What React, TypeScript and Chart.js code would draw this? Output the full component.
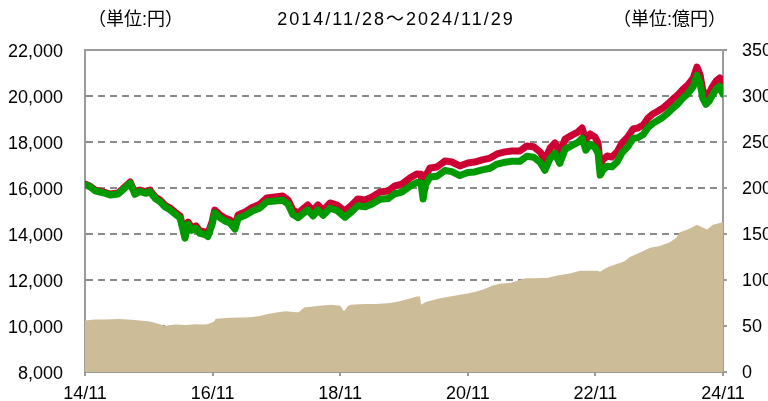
import React, { useEffect, useRef } from 'react';
import { Chart, registerables } from 'chart.js';

Chart.register(...registerables);

// ---- Data ----
const xTickLabels = ['14/11', '16/11', '18/11', '20/11', '22/11', '24/11'];
const titleLeft = '（単位:円）';
const titleCenter = '2014/11/28～2024/11/29';
const titleRight = '（単位:億円）';

// months since 2014/11
const priceMonths = [0, 0.9, 1.9, 3.4, 4.7, 6.2, 7.1, 8.5, 9.4, 10.3, 11.5, 12.2, 13.2, 14.1, 15, 16, 16.9, 17.9, 18.8, 19.4, 20.1, 20.9, 21.6, 22.6, 23.1, 23.9, 24.4, 25.4, 26.3, 27.3, 28.2, 28.8, 30.1, 31.6, 32.9, 34.2, 35.7, 37.2, 38.2, 39.1, 40.1, 41, 41.9, 42.9, 43.8, 44.8, 46.1, 47.4, 48.9, 50.2, 51.3, 52.7, 54, 55.5, 57, 58.3, 59.6, 61.1, 62.4, 63.2, 63.6, 64, 64.9, 66.2, 67.7, 69, 70.5, 72, 73.3, 74.7, 76.2, 77.5, 79, 80.3, 81.8, 83.1, 84.4, 85.6, 86.5, 87.5, 88.4, 89.3, 90.3, 91.6, 92.7, 93.5, 94.2, 95, 95.9, 96.5, 96.9, 97.4, 98.2, 99.1, 100.1, 101, 102.1, 103.1, 104, 105, 105.9, 106.8, 107.8, 108.7, 109.6, 110.6, 111.5, 112.5, 113.4, 114.4, 115.1, 115.7, 116.2, 116.8, 117.4, 117.9, 118.7, 119.4, 120];

const priceRed = [16170, 16090, 15910, 15830, 15740, 15780, 15960, 16260, 15780, 15910, 15830, 15910, 15610, 15480, 15260, 15130, 14960, 14780, 13910, 14520, 14260, 14350, 14130, 14090, 14000, 14520, 15040, 14830, 14700, 14610, 14350, 14830, 14960, 15170, 15300, 15570, 15610, 15650, 15480, 15040, 14910, 15090, 15260, 15000, 15260, 15040, 15350, 15260, 15000, 15260, 15520, 15480, 15610, 15830, 15870, 16090, 16170, 16430, 16610, 16600, 15900, 16500, 16870, 16910, 17170, 17130, 16960, 17090, 17130, 17220, 17300, 17480, 17570, 17610, 17610, 17830, 17790, 17570, 17220, 17740, 17960, 17520, 18130, 18300, 18430, 18610, 18090, 18350, 18220, 17960, 17000, 17220, 17390, 17350, 17570, 17960, 18220, 18570, 18610, 18740, 19040, 19220, 19350, 19480, 19650, 19870, 20040, 20300, 20480, 20780, 21260, 20910, 20260, 20000, 20130, 20350, 20650, 20780, 20430];

const priceGreen = [16140, 16060, 15875, 15795, 15700, 15740, 15915, 16210, 15725, 15850, 15770, 15845, 15545, 15410, 15185, 15050, 14875, 14690, 13820, 14425, 14160, 14250, 14025, 13980, 13890, 14405, 14920, 14705, 14570, 14475, 14210, 14685, 14810, 15010, 15135, 15400, 15430, 15465, 15290, 14845, 14710, 14885, 15050, 14785, 15040, 14815, 15120, 15020, 14730, 14980, 15230, 15180, 15300, 15510, 15540, 15750, 15820, 16070, 16240, 16220, 15520, 16120, 16480, 16510, 16760, 16710, 16540, 16670, 16700, 16790, 16860, 17040, 17120, 17160, 17160, 17380, 17340, 17120, 16770, 17290, 17510, 17070, 17680, 17850, 17980, 18160, 17640, 17900, 17770, 17510, 16560, 16780, 16950, 16920, 17140, 17530, 17800, 18150, 18190, 18330, 18630, 18810, 18950, 19080, 19250, 19480, 19650, 19920, 20100, 20410, 20900, 20550, 19900, 19640, 19780, 20000, 20300, 20430, 20080];

const assetMonths = [0, 1.9, 3.8, 6.2, 8.1, 10.3, 12.2, 14.1, 14.9, 16.9, 19, 20.7, 22.6, 23.3, 24.3, 24.6, 27.3, 31, 32.9, 34.4, 36.3, 37.8, 39.7, 40.2, 41.2, 44.2, 46.3, 48, 48.7, 49.5, 50, 52.7, 54.7, 57.4, 59.2, 61.1, 62.4, 63, 63.2, 64.1, 66.6, 68.6, 71.7, 73.3, 75, 76.7, 78, 80.1, 81.8, 82.8, 84.6, 87.1, 88.8, 91.2, 93.1, 96.3, 96.9, 98, 99.3, 101.4, 102.5, 104.4, 106.3, 108.1, 110, 111.2, 111.9, 113.8, 115.1, 117, 118.1, 119.4, 120];

const assetValues = [56, 57, 57, 57.5, 57, 56, 55, 52, 50, 51.5, 51, 52, 51.5, 52.5, 55, 58, 59, 59.5, 61, 63, 65, 66, 65, 65, 70, 72, 73, 72, 66, 72, 73, 74, 74, 75, 77, 80, 82, 82, 73, 76, 80, 82, 85, 87, 90, 94, 96, 97, 100, 102, 102, 102.5, 105, 107, 110, 110, 109, 113, 116, 120, 125, 130, 135, 137, 141, 146, 152, 156, 160, 155, 160, 162, 163];

const FONT_FAMILY = "'Liberation Sans', 'Noto Sans CJK JP', sans-serif";

const framePlugin = {
  id: 'frameAndTitles',
  afterDraw(chart: any) {
    const { ctx, chartArea } = chart;
    ctx.save();
    ctx.strokeStyle = '#9a9a9a';
    ctx.lineWidth = 2;
    ctx.beginPath();
    ctx.moveTo(chartArea.left, chartArea.top);
    ctx.lineTo(chartArea.right, chartArea.top);
    ctx.stroke();

    ctx.fillStyle = '#000';
    ctx.font = `18px ${FONT_FAMILY}`;
    ctx.textBaseline = 'middle';
    ctx.textAlign = 'left';
    ctx.fillText(titleLeft, 88, 20);
    ctx.fillText(titleRight, 613, 20);
    ctx.textAlign = 'center';
    (ctx as any).letterSpacing = '2px';
    ctx.fillText(titleCenter, 396, 20);
    (ctx as any).letterSpacing = '0px';
    ctx.restore();
  },
};

export default function App() {
  const canvasRef = useRef<HTMLCanvasElement | null>(null);

  useEffect(() => {
    if (!canvasRef.current) return;
    const font = { family: FONT_FAMILY, size: 18 };
    const chart = new Chart(canvasRef.current, {
      type: 'line',
      data: {
        datasets: [
          {
            label: 'green',
            data: priceMonths.map((m, i) => ({ x: m, y: priceGreen[i] })),
            borderColor: '#009900',
            borderWidth: 7,
            borderJoinStyle: 'round',
            borderCapStyle: 'round',
            pointRadius: 0,
            yAxisID: 'y',
            order: 0,
            tension: 0,
            fill: false,
          },
          {
            label: 'red',
            data: priceMonths.map((m, i) => ({ x: m, y: priceRed[i] })),
            borderColor: '#cc0033',
            borderWidth: 7,
            borderJoinStyle: 'round',
            borderCapStyle: 'round',
            pointRadius: 0,
            yAxisID: 'y',
            order: 1,
            tension: 0,
            fill: false,
          },
          {
            label: 'asset',
            data: assetMonths.map((m, i) => ({ x: m, y: assetValues[i] })),
            borderWidth: 0,
            borderColor: 'rgba(0,0,0,0)',
            backgroundColor: '#cdbc98',
            pointRadius: 0,
            yAxisID: 'y1',
            order: 2,
            fill: 'origin',
            tension: 0,
          },
        ],
      },
      options: {
        responsive: false,
        maintainAspectRatio: false,
        animation: false,
        layout: { padding: { top: 50, left: 0, right: 0, bottom: 0 } },
        plugins: { legend: { display: false }, tooltip: { enabled: false } },
        scales: {
          x: {
            type: 'linear',
            position: 'bottom',
            min: 0,
            max: 120,
            ticks: {
              stepSize: 24,
              autoSkip: false,
              maxRotation: 0,
              color: '#000',
              font,
              padding: 7,
              callback: (v: any) => xTickLabels[Math.round(Number(v) / 24)] ?? '',
            },
            grid: { drawOnChartArea: false, drawTicks: true, tickLength: 4, color: '#9a9a9a', lineWidth: 2 },
            border: { color: '#9a9a9a', width: 2 },
            afterFit: (s: any) => { s.height = 29; s.paddingLeft = 0; s.paddingRight = 0; },
          },
          y: {
            position: 'left',
            min: 8000,
            max: 22000,
            ticks: {
              stepSize: 2000,
              color: '#000',
              font,
              padding: 22,
              labelOffset: 2,
              callback: (v: any) => Number(v).toLocaleString('en-US'),
            },
            grid: { color: '#8a8a8a', lineWidth: 2, drawTicks: false },
            border: { color: '#9a9a9a', width: 2, dash: [7, 5] },
            afterFit: (s: any) => { s.width = 85; s.paddingTop = 0; s.paddingBottom = 0; },
          },
          y1: {
            position: 'right',
            min: 0,
            max: 350,
            ticks: { stepSize: 50, color: '#000', font, padding: 15, labelOffset: 1 },
            grid: { drawOnChartArea: false, drawTicks: true, tickLength: 4, color: '#9a9a9a', lineWidth: 2 },
            border: { color: '#9a9a9a', width: 2 },
            afterFit: (s: any) => { s.width = 77; s.paddingTop = 0; s.paddingBottom = 0; },
          },
        },
      },
      plugins: [framePlugin],
    } as any);
    return () => chart.destroy();
  }, []);

  return (
    <div style={{ position: 'absolute', left: 0, top: 0, width: 768, height: 401, overflow: 'hidden', background: '#fff' }}>
      <canvas ref={canvasRef} width={800} height={401} style={{ display: 'block', width: 800, height: 401 }} />
    </div>
  );
}
